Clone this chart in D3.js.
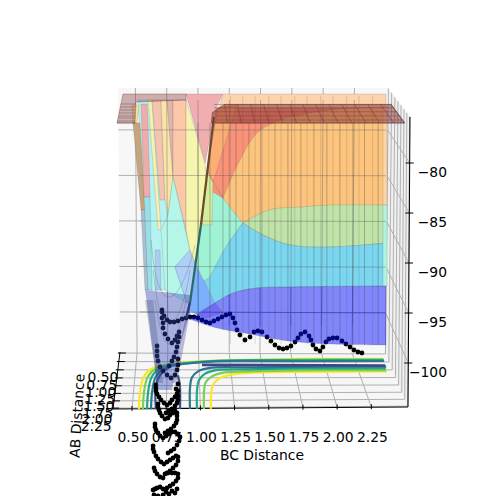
<!DOCTYPE html>
<html><head><meta charset="utf-8"><style>html,body{margin:0;background:#fff}svg{display:block}text{font-family:"DejaVu Sans";font-size:13.89px;fill:#000}</style>
<script src="https://cdn.jsdelivr.net/npm/d3@7"></script></head><body><svg width="500" height="496"></svg>
<script>
const bcDomain=[.361,2.518], abDomain=[.47,2.28], eDomain=[-104.4,-75.4];
const bcTicks=[.5,.75,1,1.25,1.5,1.75,2,2.25], abTicks=[.5,.75,1,1.25,1.5,1.75,2,2.25], eTicks=[-100,-95,-90,-85,-80];
// floor contours (BC, AB)
const contourColors=["#fde725","#7ad151","#22a884","#2a788e","#fde725","#7ad151","#22a884","#2a788e","#414487","#3b528b","#3b528b"];
const abLeft=[2.3,1.726,1.267,1.046,.892,.798,.738,.7,.66,.647];
const contourYellow1=[.551,.549,.564,.599,.668,.81,1.009,1.332,1.816,2.484].map((b,i)=>[b,abLeft[i]]);
const contourLime1=[.58,.579,.595,.631,.692,.85,1.049,1.372,1.816,2.484].map((b,i)=>[b,abLeft[i]+(i>7?.02:0)]);
const contourGreen1=[.61,.61,.626,.662,.731,.89,1.089,1.412,1.816,2.484].map((b,i)=>[b,abLeft[i]+(i>7?.04:0)]);
const contourTeal1=[.639,.64,.657,.693,.771,.93,1.129,1.412,1.816,2.484].map((b,i)=>[b,abLeft[i]+(i>6?.03:0)+(i>7?.04:0)]);
const contourTeal2=[[.924,2.3],[.926,1.593],[.943,1.236],[.991,1.046],[1.086,.937],[1.403,.922],[1.798,.907],[2.482,.892]];
const contourGreen2=[[.975,2.3],[.979,1.661],[.996,1.332],[1.043,1.125],[1.124,1.014],[1.401,.984],[1.795,.953],[2.473,.953]];
const contourLime2=[[1.026,2.3],[1.031,1.726],[1.048,1.397],[1.098,1.205],[1.177,1.093],[1.399,1.046],[1.792,1.014],[2.467,1.014]];
const contourYellow2=[[1.077,2.3],[1.083,1.829],[1.101,1.494],[1.143,1.299],[1.223,1.172],[1.395,1.093],[1.789,1.062],[2.473,1.046]];
const contourPurple=[[1.024,.845],[2.477,.86]];
const contourDarkL=[[.675,2.3],[.666,1.494],[.694,1.172],[.771,.892]];
const contourDarkR=[[.851,2.3],[.849,1.494],[.834,1.172]];
const contours=[contourYellow1,contourLime1,contourGreen1,contourTeal1,contourYellow2,contourLime2,contourGreen2,contourTeal2,contourPurple,contourDarkL,contourDarkR];
// left well fan, as (BC, energy) read on the picture plane
const fanBase=[[.544,-73.7],[.895,-73.7],[.895,-92.7],[.617,-92.7]];
const fanPale=[[.5,-74.2],[.551,-74.2],[.537,-76],[.507,-76]];
const fanTan=[[.507,-76],[.558,-76],[.595,-84.7],[.566,-84.7]];
const fanGrey=[[.566,-84.7],[.595,-84.7],[.617,-92.7],[.595,-92.7]];
const fanRose=[[.566,-74.1],[.61,-74.1],[.617,-76],[.632,-83.4],[.588,-83.4]];
const fanThin=[[.588,-83.4],[.632,-83.4],[.646,-92.7],[.617,-92.7]];
const fanLemon=[[.617,-73.7],[.646,-73.7],[.712,-86.7],[.69,-86.7]];
const fanBlush=[[.646,-73.7],[.712,-73.7],[.741,-83.7],[.705,-83.7]];
const fanCream=[[.712,-73.7],[.756,-73.7],[.8,-81.4],[.763,-85.2],[.741,-83.7]];
const fanMauve=[[.756,-73.7],[.8,-73.7],[.8,-81.4]];
const fanPeach=[[.8,-73.7],[.895,-73.7],[.895,-86.7],[.946,-89.7],[.8,-81.4]];
const fanMint=[[.763,-85.2],[.8,-81.4],[.924,-88.7],[.814,-90.4],[.902,-94],[.741,-92.7],[.712,-86.7]];
const fanPeri=[[.814,-90.4],[.924,-88.7],[.982,-90.7],[.924,-94],[.902,-94]];
const fanSlim=[[.668,-88.7],[.705,-88.7],[.712,-92.7],[.675,-92.7]];
const fanYellow=[[.895,-73.7],[1.034,-80],[1.048,-82.7],[.982,-90.7],[.924,-88.7],[.895,-86.7]];
const bandPink=[[.895,-73.1],[1.165,-73.1],[1.114,-74.5],[1.034,-80]];
const bandStrip=[[1.165,-73.1],[2.357,-73.1],[2.357,-76.2],[1.1,-76.2]];
const bandSalmon=[[1.114,-74.5],[2.357,-74.5],[2.357,-86.7],[1.019,-85.2]];
const bandWedge=[[1.129,-74.5],[1.268,-74.2],[1.092,-82],[1.165,-83.5],[1.048,-80.7]];
const fanShapes=[fanBase,fanPale,fanTan,fanGrey,fanRose,fanThin,fanLemon,fanBlush,fanCream,fanMauve,fanPeach,fanMint,fanPeri,fanSlim,fanYellow,bandPink,bandStrip,bandSalmon,bandWedge];
const fanColors=["#b4f3f2","#f3e2a0","#c6a47e","#a8c0d0","#f0acaa","#9adfe6","#f8f0b0","#f4c4b0","#fae4a8","#e4b4b0","#fcc8a8","#b4f6e8","#aed0f8","#aacef2","#f5f5ae","#f0aeb0","#fcd3ad","#fa9278","#fcae74"];
// band boundaries on the right
const curveC1=[[2.357,-74.4],[1.947,-74.7],[1.728,-75.2],[1.582,-75.7],[1.414,-77],[1.289,-79.7],[1.165,-83.5]];
const curveQLeft=[[1.165,-83.5],[1.238,-84.8],[1.311,-86]];
const curveQRight=[[1.311,-86],[1.458,-87.2],[1.655,-88.2],[1.947,-88.4],[2.357,-88]];
const curvePRight=[[2.357,-84.2],[1.947,-84.2],[1.728,-84.4],[1.531,-84.6],[1.414,-85.2],[1.311,-86]];
const curvePLeft=[[1.311,-86],[1.187,-88.4],[1.07,-91.4],[1.019,-92.7],[.975,-94]];
const curvePMid=[[1.07,-91.4],[1.187,-88.4],[1.311,-86]];
const curveR=[[2.357,-92.3],[1.655,-92.4],[1.414,-92.5],[1.238,-93],[1.107,-94]];
const curveRLow=[[1.107,-94],[1.019,-94.8],[.946,-95.4],[.902,-95.5]];
const curveBlueLow=[[.902,-95.5],[1.121,-96.5],[1.363,-97.1],[1.64,-97.8],[1.947,-98.1],[2.357,-98.2]];
const bandPale=[[1.048,-80.7],[1.092,-82],[1.085,-86.2],[1.012,-86.2]];
const edgeStripTop=[[2.335,-74.4],[2.365,-74.4],[2.365,-84.2],[2.335,-84.2]];
const edgeStripAqua=[[2.335,-84.2],[2.365,-84.2],[2.365,-92.3],[2.335,-92.3]];
const zoneSky=[[.968,-90.2],[1.026,-91.8],[1.107,-94],[.982,-95.2],[.909,-94.7]];
const zoneViolet=[[1.107,-94],[1.165,-95],[1.034,-95.5],[.968,-95.1]];
const wellLilac=[[.595,-92.7],[.924,-93.2],[.924,-94.9],[.851,-98.2],[.792,-102.7],[.69,-102.7],[.646,-98.2],[.609,-94]];
const wellEdgeR=[[.917,-93.7],[.924,-94.9],[.829,-102],[.792,-102]];
const wellEdgeL=[[.595,-93.7],[.654,-93.7],[.727,-102],[.683,-102]];
const wellCurves=[[[.668,-93.7],[.705,-96.7],[.749,-98.2],[.807,-98.2],[.866,-95.7],[.895,-93.7]],[[.654,-90.7],[.69,-94.7],[.749,-96.2],[.822,-95.9],[.895,-93.2],[.924,-90.7]],[[.639,-87.7],[.668,-91.7],[.741,-93.7],[.836,-93.2],[.924,-90.2],[.961,-88.2]]];
const edgeBrown=[[1.099,-75.4],[1.004,-86.2]], edgeTeal=[[1.004,-86.2],[.924,-94]], edgeNavy=[[.924,-94],[.895,-95.5]];
// mesh
const wireFront=[.982,1.07,1.165,1.26,1.355,1.45,1.545,1.64,1.735,1.83,1.925,2.02,2.115,2.2,2.3];
const wireFrontLow=[-95,-95.8,-96.7,-97,-97.2,-97.4,-97.7,-97.8,-97.9,-98,-98.1,-98.1,-98.2,-98.2,-98.2];
const wireBack=[1.22,1.31,1.4,1.5,1.59,1.69,1.78,1.88,1.97,2.07,2.16,2.26];
const plateRows=[2.28,2.08,1.81,1.55,1.3,1.11];
const plateRowsLeftE=[-76,-75.8,-75.5,-75.3,-75,-74.7,-74.4,-74.1];
const plateLeft=[[.434,-73.1],[.895,-73.1],[.895,-73.7],[.529,-73.9],[.522,-76],[.39,-76]];
const plateBC=[1.2,1.3,1.4,1.5,1.6,1.7,1.8,1.9,2,2.1,2.2,2.3,2.4,2.48];
// trajectory (BC, energy on the picture plane)
const trajectory=[[2.181,-99],[2.152,-98.9],[2.123,-98.7],[2.094,-98.4],[2.064,-98.1],[2.035,-97.8],[1.999,-97.5],[1.969,-97.5],[1.94,-97.6],[1.918,-97.9],[1.896,-98.4],[1.874,-98.8],[1.845,-98.6],[1.823,-98.2],[1.808,-97.7],[1.794,-97.3],[1.765,-96.9],[1.735,-97.1],[1.713,-97.5],[1.692,-97.9],[1.662,-98.3],[1.633,-98.5],[1.604,-98.6],[1.575,-98.5],[1.545,-98.2],[1.516,-97.8],[1.487,-97.4],[1.45,-96.9],[1.421,-96.8],[1.392,-96.9],[1.363,-97.4],[1.326,-97.7],[1.289,-97.2],[1.268,-96.7],[1.253,-96],[1.238,-95.5],[1.216,-95.1],[1.187,-95.2],[1.158,-95.4],[1.129,-95.6],[1.099,-95.8],[1.07,-96],[1.041,-95.9],[1.012,-95.7],[.982,-95.5],[.953,-95.4],[.924,-95.4],[.895,-95.5],[.866,-95.6],[.836,-95.8],[.807,-95.9],[.778,-95.9],[.756,-95.7],[.734,-95.3],[.719,-94.7],
[.719,-94.9],[.719,-95.5],[.727,-96],[.727,-96.5],[.741,-97.1],[.763,-97.6],[.792,-98],[.814,-97.7],[.829,-97.3],[.844,-96.9],[.844,-97.4],[.836,-97.9],[.829,-98.4],[.822,-98.9],[.807,-99.4],[.792,-99.8],[.771,-100.3],
[.683,-98.3],[.683,-98.8],[.683,-99.3],[.69,-99.8],[.705,-100.4],[.727,-100.8],[.756,-101.2],[.785,-101.5],[.814,-101.2],[.829,-100.7],[.836,-100.2],[.836,-99.6],[.836,-102.1],[.822,-102.6],
[.675,-102.2],[.675,-102.5],[.675,-102.8],[.683,-103.1],[.697,-103.4],[.712,-103.7],[.734,-104],[.756,-104.2],[.778,-104],[.792,-103.7],[.814,-103.4],[.829,-103.1],[.836,-102.8],
[.836,-103.3],[.836,-103.7],[.829,-104],[.814,-104.3],[.792,-104.6],[.77,-104.8],[.749,-105],
[.69,-104.1],[.69,-104.4],[.697,-104.7],[.705,-105],[.719,-105.3],[.741,-105.6],[.763,-105.5],[.778,-105.2],[.8,-105],[.814,-104.8],[.829,-105],
[.829,-105.3],[.829,-105.7],[.822,-106],[.807,-106.3],[.785,-106.6],[.763,-106.8],[.741,-107],
[.668,-106.1],[.668,-106.4],[.675,-106.7],[.69,-107],[.705,-107.3],[.727,-107.5],[.749,-107.3],[.77,-107.1],[.792,-106.9],[.814,-106.9],[.836,-107.1],
[.851,-107.4],[.844,-107.8],[.829,-108.2],[.807,-108.6],[.785,-108.8],[.763,-109],
[.654,-108.3],[.654,-108.6],[.661,-108.9],[.675,-109.3],[.69,-109.6],[.712,-109.9],[.734,-110.1],[.756,-109.9],[.778,-109.7],[.8,-109.5],[.822,-109.3],[.836,-109.4],
[.836,-109.8],[.822,-110.2],[.8,-110.5],[.778,-110.8],[.756,-111],
[.661,-110.5],[.668,-110.8],[.683,-111.1],[.705,-111.4],[.727,-111.5],[.741,-111.1],[.763,-111],[.792,-111],[.814,-111],[.836,-111.1],
[.836,-111.5],[.822,-111.8],[.8,-112.1],[.778,-112.3],[.756,-112.5],
[.654,-112.7],[.668,-112.6],[.683,-112.5],[.705,-112.4],[.727,-112.6],[.749,-112.9],[.77,-113.1],[.792,-112.8],[.814,-113],[.829,-112.6],[.661,-113.2],[.69,-113.3],[.727,-113.2]];

const lerp=(a,b,t)=>a+(b-a)*t, lerp2=(p,q,t)=>[lerp(p[0],q[0],t),lerp(p[1],q[1],t)];
const uS=d3.scaleLinear(bcDomain,[0,1]), vS=d3.scaleLinear(abDomain,[0,1]), wS=d3.scaleLinear(eDomain,[0,1]);
const BBL=[120,352],BBR=[385,353],BTL=[118,88],BTR=[388,88],FBL=[113,409],FBR=[408,407],FTL=[111,117],FTR=[410,117];
function project(bc,ab,e){const u=uS(bc),v=vS(ab),w=wS(e);
 const b=lerp2(lerp2(BBL,BBR,u),lerp2(BTL,BTR,u),w), f=lerp2(lerp2(FBL,FBR,u),lerp2(FTL,FTR,u),w);
 const t=1.1*v/(1+.1*v); return lerp2(b,f,t);}
const picX=d3.scaleLinear(bcDomain,[113,408]), picY=d3.scaleLinear(eDomain,[407,117]);
const pic=d=>[picX(d[0]),picY(d[1])];
const svg=d3.select("svg");
svg.append("defs").append("clipPath").attr("id","wallClip").append("rect").attr("x",140).attr("y",100).attr("width",246).attr("height",226);
const line=d3.line(), cur=d3.line().curve(d3.curveCatmullRom);
const [ab0,ab1]=abDomain,[bc0,bc1]=bcDomain,[e0,e1]=eDomain;
const poly=pts=>line(pts)+"Z";
const chain=segs=>segs.map((s,i)=>{if(s.length==1){const p=pic(s[0]);return "L"+p[0]+","+p[1];}const d=cur(s.map(pic));return i?d.replace(/^M/,"L"):d;}).join("")+"Z";
// panes
svg.append("path").attr("d",poly([BBL,BBR,BTR,BTL])).attr("fill","#f7f7f7");
svg.append("path").attr("d",poly([BBR,BTR,FTR,FBR])).attr("fill","#f0f0f0");
svg.append("path").attr("d",poly([BBL,BBR,FBR,FBL])).attr("fill","#f6f6f6");
const gridG=svg.append("g").attr("stroke","#b0b0b0").attr("stroke-width",1).attr("fill","none");
function seg(g,a,b){g.append("path").attr("d",line([a,b]));}
function wallGrid(g){bcTicks.forEach(b=>seg(g,project(b,ab0,e0),project(b,ab0,e1)));eTicks.forEach(e=>seg(g,project(bc0,ab0,e),project(bc1,ab0,e)));}
wallGrid(gridG);
bcTicks.forEach(b=>seg(gridG,project(b,ab0,e0),project(b,ab1,e0)));
abTicks.forEach(a=>{seg(gridG,project(bc0,a,e0),project(bc1,a,e0));seg(gridG,project(bc1,a,e0),project(bc1,a,e1));});
eTicks.forEach(e=>seg(gridG,project(bc1,ab0,e),project(bc1,ab1,e)));
// axes
const axG=svg.append("g").attr("stroke","#000").attr("stroke-width",1).attr("fill","none");
seg(axG,FBL,FBR);seg(axG,FBL,BBL);seg(axG,FBR,FTR);
bcTicks.forEach(b=>{const p=project(b,ab1,e0);seg(axG,[p[0],p[1]-3],[p[0],p[1]+2]);});
abTicks.forEach(a=>{const p=project(bc0,a,e0);seg(axG,[p[0]-2,p[1]],[p[0]+6,p[1]]);});
eTicks.forEach(e=>{const p=project(bc1,ab1,e);seg(axG,[p[0]-4,p[1]],[p[0]+4,p[1]]);});
// labels
const fmt=d3.format(".2f");
bcTicks.forEach(b=>{const p=project(b,ab1,e0);svg.append("text").attr("x",p[0]+1).attr("y",442).attr("text-anchor","middle").text(fmt(b));});
abTicks.forEach((a,i)=>{const p=project(bc0,a,e0);svg.append("text").attr("x",p[0]-17).attr("y",p[1]+29-i*.9).attr("text-anchor","middle").text(fmt(a));});
eTicks.forEach(e=>{const p=project(bc1,ab1,e);svg.append("text").attr("x",447).attr("y",p[1]+14).attr("text-anchor","end").text(d3.format("")(e).replace("-","\u2212"));});
svg.append("text").attr("x",262).attr("y",460).attr("text-anchor","middle").text("BC Distance");
svg.append("text").attr("transform","translate(82,416) rotate(-86.5)").attr("text-anchor","middle").text("AB Distance");
// floor contours
contours.forEach((c,i)=>svg.append("path").attr("d",d3.line().curve(d3.curveCatmullRom)(c.map(d=>project(d[0],d[1],e0)))).attr("fill","none").attr("stroke",contourColors[i]).attr("stroke-width",i==8?2.6:2.2));
// surface
const surf=(d,c,o=1)=>svg.append("path").attr("d",d).attr("fill",c).attr("fill-opacity",o).attr("stroke","rgba(60,60,60,.22)").attr("stroke-width",.7);
fanShapes.forEach((b,i)=>surf(poly(b.map(pic)),fanColors[i]));
surf(chain([curveC1,[[1.311,-88.2]],[[2.357,-88.2]]]),"#fdc47e");
surf(chain([curveQLeft,curvePLeft,[[.924,-94]],[[1.048,-82.7]],[[1.092,-82.9]]]),"#9ff3d4");
surf(poly(bandPale.map(pic)),"#d5eb9e");
surf(chain([curvePRight,curveQRight]),"#bfe3a8");
surf(chain([curveQRight,curveR,[[1.026,-91.8]],curvePMid]),"#7bd6f0");
surf(poly(edgeStripTop.map(pic)),"#fbd5a8");
surf(poly(edgeStripAqua.map(pic)),"#aef5e0");
svg.append("path").attr("d",poly(zoneSky.map(pic))).attr("fill","#f8f8f8");
const over=svg.append("g").attr("clip-path","url(#wallClip)").attr("stroke","#606060").attr("stroke-opacity",.4).attr("fill","none");
wallGrid(over);
// trajectory
svg.append("g").selectAll("circle").data(trajectory).join("circle").attr("cx",d=>picX(d[0])).attr("cy",d=>picY(d[1])).attr("r",2.4).attr("fill","#000");
// translucent parts over the trajectory
surf(chain([curveR,curveRLow,curveBlueLow]),"#000cfe",.48);
surf(poly(zoneSky.map(pic)),"#0068ff",.5);
surf(poly(zoneViolet.map(pic)),"#4020e0",.25);
svg.append("path").attr("d",poly(wellLilac.map(pic))).attr("fill","#3044bc").attr("fill-opacity",.4);
svg.append("path").attr("d",poly(wellEdgeR.map(pic))).attr("fill","#303080").attr("fill-opacity",.3);
svg.append("path").attr("d",poly(wellEdgeL.map(pic))).attr("fill","#304060").attr("fill-opacity",.25);
wellCurves.forEach(c=>svg.append("path").attr("d",d3.line().curve(d3.curveBasis)(c.map(pic))).attr("fill","none").attr("stroke","#555").attr("stroke-opacity",.35).attr("stroke-width",.8));
// mesh
const wires=svg.append("g").attr("fill","none").attr("stroke","#404040").attr("stroke-width",1);
wireFront.forEach((b,i)=>seg(wires.append("g").attr("stroke-opacity",.33),pic([b,-76]),pic([b,wireFrontLow[i]])));
wireBack.forEach(b=>seg(wires.append("g").attr("stroke-opacity",.16),pic([b,-73.3]),pic([b,-98.1])));
// plateaus
const plateE=-76;
const plateR=[[1.085,2.28],[1.1,1.6],[1.2,1.1],[2.48,1.1],[2.48,2.28]].map(d=>project(d[0],d[1],plateE));
svg.append("path").attr("d",poly(plateR)).attr("fill","#8b3030").attr("fill-opacity",.52).attr("stroke","#603030").attr("stroke-opacity",.5);
plateRows.forEach(a=>seg(wires.append("g").attr("stroke-opacity",.4),project(1.12,a,plateE),project(2.48,a,plateE)));
plateBC.forEach(b=>seg(wires.append("g").attr("stroke-opacity",.5),project(b,1.1,plateE),project(b,2.28,plateE)));
svg.append("path").attr("d",poly(plateLeft.map(pic))).attr("fill","#8b4040").attr("fill-opacity",.4).attr("stroke","#603030").attr("stroke-opacity",.35);
plateRowsLeftE.forEach(e=>seg(wires.append("g").attr("stroke-opacity",.4),pic([.39+(e+76)*.0152,e]),pic([.522,e])));
// dark edge
[[edgeBrown,"#6b4a2a"],[edgeTeal,"#2f6a60"],[edgeNavy,"#2a3a80"]].forEach(([d,c])=>svg.append("path").attr("d",line(d.map(pic))).attr("fill","none").attr("stroke",c).attr("stroke-width",2.2));
</script></body></html>
